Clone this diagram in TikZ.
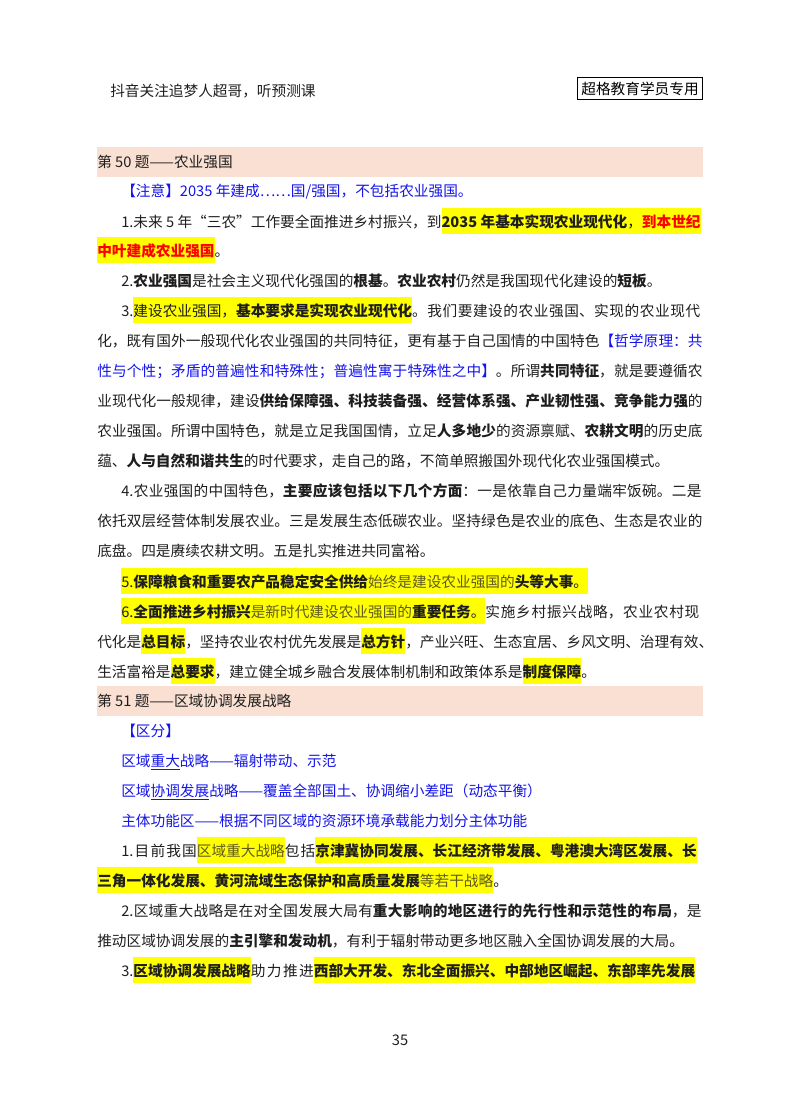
\documentclass[tikz,border=0pt]{standalone}
\usepackage{fontspec}
\setmainfont{Noto Sans CJK SC}
\XeTeXlinebreaklocale "zh"
\XeTeXlinebreakskip=0pt plus 4pt
\hfuzz=50pt \hbadness=10000
\definecolor{hlyellow}{RGB}{255,255,0}
\definecolor{barpink}{RGB}{250,224,210}
\definecolor{blu}{RGB}{20,20,235}
\definecolor{olive}{RGB}{95,90,30}
\definecolor{body}{RGB}{30,30,30}
\newcommand\hly[1]{{\setlength\fboxsep{0pt}\colorbox{hlyellow}{\rule[-5.5pt]{0pt}{19.5pt}#1}}}
\newcommand\fl[3]{\node[txt,text width=454.5pt] at (#1,#2) {\parindent=0pt\parfillskip=0pt\emergencystretch=20pt\tolerance=10000 #3\par};}
\newcommand\il[3]{\node[txt,text width=436.5pt] at (#1,#2) {\parindent=0pt\parfillskip=0pt\emergencystretch=20pt\tolerance=10000 #3\par};}
\newcommand\nl[3]{\node[txt] at (#1,#2) {#3};}
\begin{document}
\begin{tikzpicture}[x=0.75pt,y=-0.75pt,
  txt/.style={anchor=base west,inner sep=0pt,font=\fontsize{11pt}{13pt}\selectfont,text=body},
  bar/.style={fill=barpink,draw=none}]
\useasboundingbox (0,0) rectangle (800,1114);
% header
\node[txt] (hd) at (110,96) {抖音关注追梦人超哥，听预测课};
\node[draw=black,line width=0.8pt,inner sep=2pt,font=\fontsize{11pt}{13pt}\selectfont,minimum width=94pt,minimum height=17pt] (tag) at (640,88.5) {超格教育学员专用};
% Q50
\fill[bar] (97,147) rectangle (703,177);
\nl{97}{167}{第 50 题——农业强国}
\nl{121}{196}{\color{blu}【注意】2035 年建成……国/强国，不包括农业强国。}
\nl{121}{227}{1.未来 5 年“三农”工作要全面推进乡村振兴，到\hly{\textbf{2035 年基本实现农业现代化}，\textcolor{red}{\textbf{到本世纪}}}}
\nl{97}{256}{\hly{\textcolor{red}{\textbf{中叶建成农业强国}}}。}
\nl{121}{286}{2.\textbf{农业强国}是社会主义现代化强国的\textbf{根基}。\textbf{农业农村}仍然是我国现代化建设的\textbf{短板}。}
\il{121}{316}{3.\hly{建设农业强国，\textbf{基本要求是实现农业现代化}}。我们要建设的农业强国、实现的农业现代}
\fl{97}{346}{化，既有国外一般现代化农业强国的共同特征，更有基于自己国情的中国特色\textcolor{blu}{【哲学原理：共}}
\fl{97}{376}{\textcolor{blu}{性与个性；矛盾的普遍性和特殊性；普遍性寓于特殊性之中】}。所谓\textbf{共同特征}，就是要遵循农}
\fl{97}{406}{业现代化一般规律，建设\textbf{供给保障强、科技装备强、经营体系强、产业韧性强、竞争能力强}的}
\fl{97}{436}{农业强国。所谓中国特色，就是立足我国国情，立足\textbf{人多地少}的资源禀赋、\textbf{农耕文明}的历史底}
\nl{97}{466}{蕴、\textbf{人与自然和谐共生}的时代要求，走自己的路，不简单照搬国外现代化农业强国模式。}
\il{121}{496}{4.农业强国的中国特色，\textbf{主要应该包括以下几个方面}：一是依靠自己力量端牢饭碗。二是}
\fl{97}{526}{依托双层经营体制发展农业。三是发展生态低碳农业。坚持绿色是农业的底色、生态是农业的}
\nl{97}{556}{底盘。四是赓续农耕文明。五是扎实推进共同富裕。}
\nl{121}{587}{\hly{5.\textbf{保障粮食和重要农产品稳定安全供给}\textcolor{olive}{始终是建设农业强国的}\textbf{头等大事}。}}
\il{121}{617}{\hly{6.\textbf{全面推进乡村振兴}\textcolor{olive}{是新时代建设农业强国的}\textbf{重要任务}。}实施乡村振兴战略，农业农村现}
\nl{97}{647}{代化是\hly{\textbf{总目标}}，坚持农业农村优先发展是\hly{\textbf{总方针}}，产业兴旺、生态宜居、乡风文明、治理有效、}
\nl{97}{677}{生活富裕是\hly{\textbf{总要求}}，建立健全城乡融合发展体制机制和政策体系是\hly{\textbf{制度保障}}。}
% Q51
\fill[bar] (97,686) rectangle (703,716);
\nl{97}{706}{第 51 题——区域协调发展战略}
\nl{121}{736}{\color{blu}【区分】}
\nl{121}{766}{\color{blu}区域\underline{重大}战略——辐射带动、示范}
\nl{121}{796}{\color{blu}区域\underline{协调发展}战略——覆盖全部国土、协调缩小差距（动态平衡）}
\nl{121}{826}{\color{blu}主体功能区——根据不同区域的资源环境承载能力划分主体功能}
\il{121}{856}{1.目前我国\hly{\textcolor{olive}{区域重大战略}}包括\hly{\textbf{京津冀协同发展、长江经济带发展、粤港澳大湾区发展、长}}}
\nl{97}{886}{\hly{\textbf{三角一体化发展、黄河流域生态保护和高质量发展}\textcolor{olive}{等若干战略}}。}
\il{121}{916}{2.区域重大战略是在对全国发展大局有\textbf{重大影响的地区进行的先行性和示范性的布局}，是}
\nl{97}{946}{推动区域协调发展的\textbf{主引擎和发动机}，有利于辐射带动更多地区融入全国协调发展的大局。}
\il{121}{976}{3.\hly{\textbf{区域协调发展战略}}助力推进\hly{\textbf{西部大开发、东北全面振兴、中部地区崛起、东部率先发展}}}
\node[txt,anchor=base] (pg) at (400,1045) {35};
\end{tikzpicture}
\end{document}
